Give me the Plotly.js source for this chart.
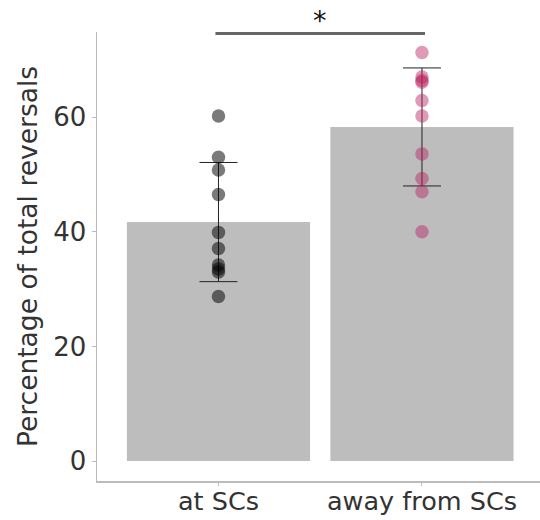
<!DOCTYPE html>
<html>
<head>
<meta charset="utf-8">
<script src="https://cdn.plot.ly/plotly-3.0.1.min.js"></script>
<style>html,body{margin:0;padding:0;background:#fff;}#chart{width:540px;height:520px;}</style>
</head>
<body>
<div id="chart"></div>
<script>
const categories = ['at SCs', 'away from SCs'];
const barMeans = [41.7, 58.3];
const barErrors = [10.4, 10.3];
const atSCsValues = [60.2, 53.0, 50.8, 46.5, 39.9, 37.1, 34.2, 33.5, 33.0, 28.7];
const awayValues = [71.3, 67.0, 66.4, 66.1, 62.9, 60.2, 53.6, 49.3, 47.0, 40.0];
const sigLabel = '*';
const sigLevel = 74.6;
const yTicks = [0, 20, 40, 60];

const font = 'DejaVu Sans, sans-serif';

const traces = [
  {
    type: 'bar',
    x: categories,
    y: barMeans,
    width: 0.9,
    marker: {color: '#bdbdbd', line: {width: 0}},
    error_y: {type: 'data', array: barErrors, visible: true, color: '#222', thickness: 1, width: 19},
    hoverinfo: 'skip'
  },
  {
    type: 'scatter',
    mode: 'markers',
    x: atSCsValues.map(() => categories[0]),
    y: atSCsValues,
    marker: {color: 'rgba(0,0,0,0.52)', size: 13.5, line: {width: 0}},
    cliponaxis: false
  },
  {
    type: 'scatter',
    mode: 'markers',
    x: awayValues.map(() => categories[1]),
    y: awayValues,
    marker: {color: 'rgba(185,30,95,0.45)', size: 13.5, line: {width: 0}},
    cliponaxis: false
  }
];

const layout = {
  width: 540,
  height: 520,
  margin: {l: 97, r: 0, t: 32, b: 39},
  paper_bgcolor: '#fff',
  plot_bgcolor: '#fff',
  showlegend: false,
  font: {family: font, color: '#333', size: 26},
  xaxis: {
    type: 'category',
    range: [-0.597, 1.58],
    showline: true, linecolor: '#bbb', linewidth: 1.5,
    ticks: 'outside', ticklen: 3, tickcolor: '#bbb', tickwidth: 1,
    ticklabelstandoff: -6,
    showgrid: false, zeroline: false,
    tickfont: {family: font, size: 25.5, color: '#333'}
  },
  yaxis: {
    range: [-3.49, 74.87],
    tickvals: yTicks,
    showline: true, linecolor: '#bbb', linewidth: 1.5,
    ticks: 'outside', ticklen: 4, tickcolor: '#bbb', tickwidth: 1,
    showgrid: false, zeroline: false,
    tickfont: {family: font, size: 26, color: '#333'},
    title: {text: 'Percentage of total reversals', font: {family: font, size: 26.5, color: '#333'}, standoff: 8}
  },
  shapes: [
    {type: 'line', xref: 'x', yref: 'y', x0: -0.015, x1: 1.015, y0: sigLevel, y1: sigLevel,
     line: {color: '#666', width: 3}}
  ],
  annotations: [
    {xref: 'x', yref: 'y', x: 0.5, y: sigLevel, text: sigLabel, showarrow: false,
     yanchor: 'bottom', yshift: -4, font: {family: font, size: 27, color: '#111'}}
  ]
};

Plotly.newPlot('chart', traces, layout, {displayModeBar: false, staticPlot: true});
</script>
</body>
</html>
